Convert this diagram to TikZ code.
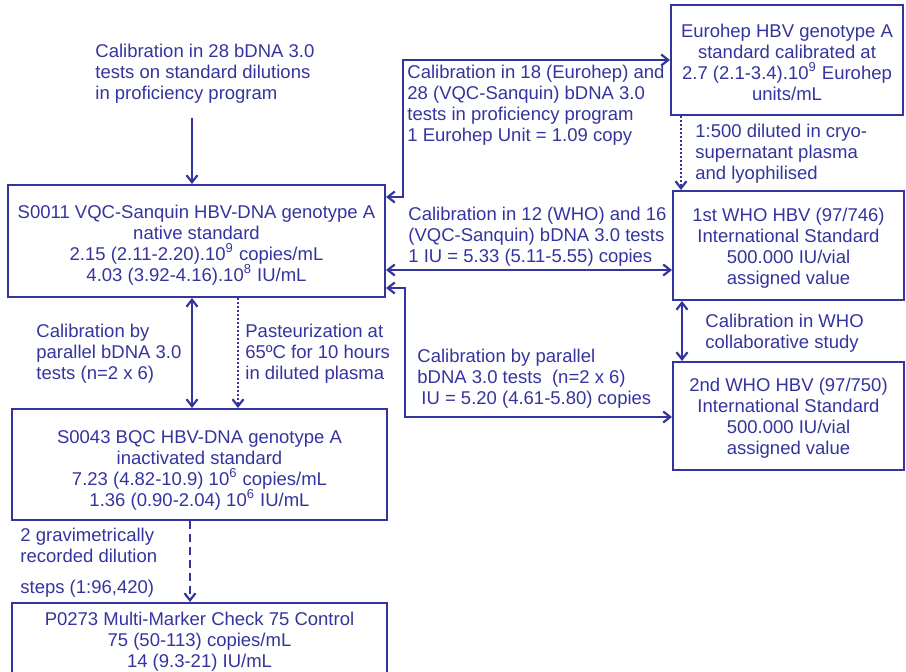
\documentclass[tikz,border=0pt]{standalone}
\usepackage{fontspec}
\setmainfont{Liberation Sans}
\usetikzlibrary{arrows.meta}
\definecolor{hbvblue}{RGB}{52,52,158}
\newcommand{\tophi}[1]{\rule{0pt}{#1}}
\begin{document}
\begin{tikzpicture}[x=0.5pt,y=-0.5pt,
    every node/.style={text=hbvblue,font=\fontsize{9.25}{10.5}\selectfont},
    box/.style={draw=hbvblue,line width=1pt,align=center,inner sep=0pt},
    lab/.style={anchor=west,align=left,inner sep=0pt},
    con/.style={draw=hbvblue,line width=1.1pt,-{Straight Barb[length=3.5pt,width=5.5pt]}},
    dcon/.style={con,{Straight Barb[length=3.5pt,width=5.5pt]}-{Straight Barb[length=3.5pt,width=5.5pt]}},
    dotline/.style={dash pattern=on 1pt off 1pt},
    dashline/.style={dash pattern=on 4pt off 2.5pt}]
    \useasboundingbox (0,0) rectangle (906,672);

    % boxes
    \node[box,minimum width=188.5pt,minimum height=56pt] (S11) at (196.5,241)
        {\tophi{10.5pt}S0011 VQC-Sanquin HBV-DNA genotype A\\ native standard\\
         2.15 (2.11-2.20).10\textsuperscript{9} copies/mL\\
         4.03 (3.92-4.16).10\textsuperscript{8} IU/mL};
    \node[box,minimum width=187.5pt,minimum height=55.5pt] (S43) at (199.5,464.5)
        {\tophi{12.5pt}S0043 BQC HBV-DNA genotype A\\ inactivated standard\\
         7.23 (4.82-10.9) 10\textsuperscript{6} copies/mL\\
         1.36 (0.90-2.04) 10\textsuperscript{6} IU/mL};
    \node[box,minimum width=187.5pt,minimum height=39pt] (P273) at (199.5,642)
        {P0273 Multi-Marker Check 75 Control\\ 75 (50-113) copies/mL\\ 14 (9.3-21) IU/mL};
    \node[box,minimum width=116pt,minimum height=55pt] (EH) at (787,60)
        {\tophi{9pt}Eurohep HBV genotype A\\ standard calibrated at\\
         2.7 (2.1-3.4).10\textsuperscript{9} Eurohep\\ units/mL};
    \node[box,minimum width=115.5pt,minimum height=54.5pt] (W1) at (788.5,245.5)
        {\tophi{9.5pt}1st WHO HBV (97/746)\\ International Standard\\ 500.000 IU/vial\\ assigned value};
    \node[box,minimum width=115.5pt,minimum height=54pt] (W2) at (788.5,416)
        {\tophi{9pt}2nd WHO HBV (97/750)\\ International Standard\\ 500.000 IU/vial\\ assigned value};

    % labels
    \node[lab] (TP) at (95,73.5) {Calibration in 28 bDNA 3.0\\ tests on standard dilutions\\ in proficiency program};
    \node[lab] (LE) at (407,105) {Calibration in 18 (Eurohep) and\\ 28 (VQC-Sanquin) bDNA 3.0\\
        tests in proficiency program\\ 1 Eurohep Unit = 1.09 copy};
    \node[lab] (LD) at (695,154) {1:500 diluted in cryo-\\ supernatant plasma\\ and lyophilised};
    \node[lab] (LW) at (408,236.5) {Calibration in 12 (WHO) and 16\\ (VQC-Sanquin) bDNA 3.0 tests\\
        1 IU = 5.33 (5.11-5.55) copies};
    \node[lab] (LP) at (417,378.5) {Calibration by parallel\\ bDNA 3.0 tests\ \ (n=2 x 6)\\
        \hspace{2pt}IU = 5.20 (4.61-5.80) copies};
    \node[lab] (LC) at (705,333.5) {Calibration in WHO\\ collaborative study};
    \node[lab] (LB) at (36,354) {Calibration by\\ parallel bDNA 3.0\\ tests (n=2 x 6)};
    \node[lab] (LT) at (245,354) {Pasteurization at\\ 65ºC for 10 hours\\ in diluted plasma};
    \node[lab] (LG) at (20,563) {2 gravimetrically\\ recorded dilution\\[5pt] steps (1:96,420)};

    \coordinate (T0) at (192,118);
    \coordinate (K1) at (403,197);
    \coordinate (K3) at (400,270);
    \coordinate (K4) at (405,288);
    \coordinate (K5) at (238,0);
    \coordinate (K6) at (190,0);

    % connectors
    \draw[con] (T0) -- (T0 |- S11.north);
    \draw[dcon] (S11.east |- K1) -- (K1) |- (EH.west);
    \draw[con,dotline] ([xshift=5.5pt]EH.south west) -- ([xshift=4.5pt]W1.north west);
    \draw[dcon] (S11.east |- K3) -- (W1.west |- K3);
    \draw[dcon] (S11.east |- K4) -- (K4) |- ([yshift=-0.5pt]W2.west);
    \draw[dcon] ([xshift=5pt]W1.south west) -- ([xshift=5pt]W2.north west);
    \draw[dcon] (T0 |- S11.south) -- (T0 |- S43.north);
    \draw[con,dotline] (K5 |- S11.south) -- (K5 |- S43.north);
    \draw[con,dashline] (K6 |- S43.south) -- (K6 |- P273.north);
\end{tikzpicture}
\end{document}
